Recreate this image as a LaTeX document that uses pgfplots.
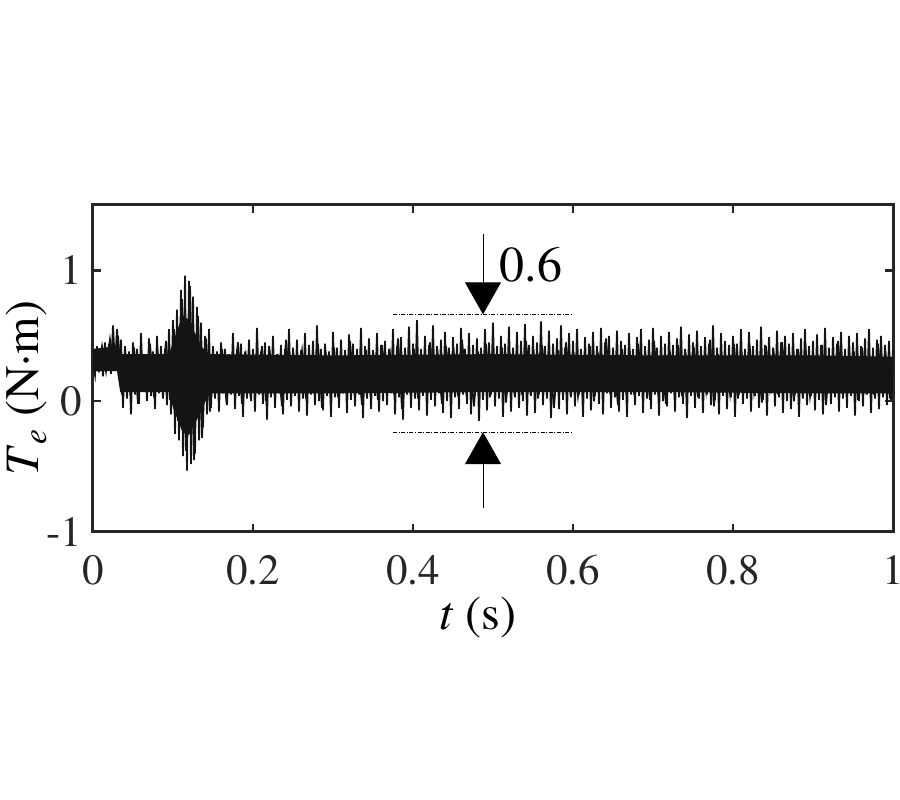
\documentclass[border=0pt]{standalone}
\usepackage{fontspec}
\IfFontExistsTF{texgyretermes-regular.otf}{\setmainfont{texgyretermes}[Extension=.otf,UprightFont=*-regular,ItalicFont=*-italic,BoldFont=*-bold,BoldItalicFont=*-bolditalic]}{\setmainfont{DejaVu Serif}}
\usepackage{pgfplots}
\usepackage{pgfplotstable}
\pgfplotsset{compat=1.18}
\usetikzlibrary{arrows.meta}
\definecolor{axgray}{RGB}{38,38,38}
\pgfplotstableread[row sep=\\]{
x y\\
0 0.30\\ 0.0025 0.20\\ 0.005 0.42\\ 0.0075 0.22\\ 0.01 0.40\\ 0.0125 0.19\\ 0.015 0.45\\ 0.0175 0.24\\ 0.02 0.44\\ 0.0225 0.21\\
0.025 0.58\\ 0.0275 0.26\\ 0.03 0.55\\ 0.0325 0.28\\ 0.035 0.47\\ 0.0375 -0.05\\ 0.04 0.42\\ 0.0425 0.02\\ 0.045 0.38\\ 0.0475 -0.10\\
0.05 0.45\\ 0.0525 0.05\\ 0.055 0.40\\ 0.0575 -0.02\\ 0.06 0.52\\ 0.0625 0.08\\ 0.065 0.36\\ 0.0675 0.00\\ 0.07 0.48\\ 0.0725 0.04\\
0.075 0.38\\ 0.0775 -0.06\\ 0.08 0.50\\ 0.0825 0.06\\ 0.085 0.42\\ 0.0875 0.02\\ 0.09 0.40\\ 0.0925 -0.03\\ 0.095 0.55\\ 0.0975 -0.10\\
0.1 0.62\\ 0.1025 -0.25\\ 0.105 0.70\\ 0.1075 -0.30\\ 0.11 0.85\\ 0.1125 -0.42\\ 0.115 0.96\\ 0.1175 -0.53\\ 0.12 0.92\\ 0.1225 -0.48\\
0.125 0.80\\ 0.1275 -0.40\\ 0.13 0.72\\ 0.1325 -0.30\\ 0.135 0.60\\ 0.1375 -0.20\\ 0.14 0.50\\ 0.1425 -0.10\\ 0.145 0.55\\ 0.1475 -0.05\\
0.15 0.42\\ 0.1525 0.02\\ 0.155 0.38\\ 0.1575 -0.08\\ 0.16 0.45\\ 0.1625 0.06\\ 0.165 0.40\\ 0.1675 -0.03\\ 0.17 0.36\\ 0.1725 0.05\\
0.175 0.52\\ 0.1775 -0.06\\ 0.18 0.40\\ 0.1825 0.04\\ 0.185 0.44\\ 0.1875 -0.12\\ 0.19 0.38\\ 0.1925 0.02\\ 0.195 0.47\\ 0.1975 0.00\\
0.2 0.40\\ 0.2025 -0.08\\ 0.205 0.56\\ 0.2075 0.05\\ 0.21 0.38\\ 0.2125 -0.02\\ 0.215 0.45\\ 0.2175 -0.14\\ 0.22 0.42\\ 0.2225 0.03\\
0.225 0.50\\ 0.2275 -0.05\\ 0.23 0.36\\ 0.2325 0.06\\ 0.235 0.43\\ 0.2375 -0.10\\ 0.24 0.40\\ 0.2425 0.01\\ 0.245 0.55\\ 0.2475 -0.04\\
0.25 0.41\\ 0.2525 0.04\\ 0.255 0.47\\ 0.2575 -0.08\\ 0.26 0.39\\ 0.2625 0.02\\ 0.265 0.52\\ 0.2675 -0.11\\ 0.27 0.43\\ 0.2725 0.05\\
0.275 0.46\\ 0.2775 -0.03\\ 0.28 0.58\\ 0.2825 0.00\\ 0.285 0.40\\ 0.2875 -0.07\\ 0.29 0.44\\ 0.2925 0.04\\ 0.295 0.38\\ 0.2975 -0.12\\
0.3 0.53\\ 0.3025 0.03\\ 0.305 0.41\\ 0.3075 -0.05\\ 0.31 0.47\\ 0.3125 0.06\\ 0.315 0.39\\ 0.3175 -0.09\\ 0.32 0.51\\ 0.3225 0.01\\
0.325 0.44\\ 0.3275 -0.04\\ 0.33 0.40\\ 0.3325 0.05\\ 0.335 0.56\\ 0.3375 -0.13\\ 0.34 0.42\\ 0.3425 0.02\\ 0.345 0.48\\ 0.3475 -0.06\\
0.35 0.39\\ 0.3525 0.04\\ 0.355 0.52\\ 0.3575 -0.08\\ 0.36 0.43\\ 0.3625 0.00\\ 0.365 0.46\\ 0.3675 -0.03\\ 0.37 0.40\\ 0.3725 0.06\\
0.375 0.55\\ 0.3775 -0.10\\ 0.38 0.42\\ 0.3825 0.03\\ 0.385 0.49\\ 0.3875 -0.14\\ 0.39 0.41\\ 0.3925 0.05\\ 0.395 0.57\\ 0.3975 -0.05\\
0.4 0.44\\ 0.4025 0.02\\ 0.405 0.62\\ 0.4075 -0.07\\ 0.41 0.40\\ 0.4125 0.04\\ 0.415 0.50\\ 0.4175 -0.11\\ 0.42 0.43\\ 0.4225 0.01\\
0.425 0.58\\ 0.4275 -0.04\\ 0.43 0.42\\ 0.4325 0.06\\ 0.435 0.47\\ 0.4375 -0.09\\ 0.44 0.53\\ 0.4425 0.00\\ 0.445 0.41\\ 0.4475 -0.13\\
0.45 0.49\\ 0.4525 0.03\\ 0.455 0.44\\ 0.4575 -0.06\\ 0.46 0.56\\ 0.4625 0.05\\ 0.465 0.40\\ 0.4675 -0.02\\ 0.47 0.52\\ 0.4725 -0.10\\
0.475 0.43\\ 0.4775 0.04\\ 0.48 0.48\\ 0.4825 -0.15\\ 0.485 0.41\\ 0.4875 0.01\\ 0.49 0.55\\ 0.4925 -0.07\\ 0.495 0.45\\ 0.4975 0.05\\
0.5 0.60\\ 0.5025 -0.04\\ 0.505 0.42\\ 0.5075 0.02\\ 0.51 0.50\\ 0.5125 -0.12\\ 0.515 0.44\\ 0.5175 0.06\\ 0.52 0.57\\ 0.5225 -0.08\\
0.525 0.41\\ 0.5275 0.03\\ 0.53 0.53\\ 0.5325 -0.05\\ 0.535 0.46\\ 0.5375 0.00\\ 0.54 0.59\\ 0.5425 -0.11\\ 0.545 0.43\\ 0.5475 0.04\\
0.55 0.50\\ 0.5525 -0.09\\ 0.555 0.45\\ 0.5575 0.05\\ 0.56 0.61\\ 0.5625 -0.03\\ 0.565 0.42\\ 0.5675 0.02\\ 0.57 0.54\\ 0.5725 -0.13\\
0.575 0.44\\ 0.5775 0.06\\ 0.58 0.48\\ 0.5825 -0.06\\ 0.585 0.58\\ 0.5875 0.01\\ 0.59 0.41\\ 0.5925 -0.10\\ 0.595 0.52\\ 0.5975 0.03\\
0.6 0.46\\ 0.6025 -0.04\\ 0.605 0.55\\ 0.6075 0.05\\ 0.61 0.40\\ 0.6125 -0.12\\ 0.615 0.49\\ 0.6175 0.02\\ 0.62 0.44\\ 0.6225 -0.07\\
0.625 0.53\\ 0.6275 0.04\\ 0.63 0.42\\ 0.6325 -0.02\\ 0.635 0.56\\ 0.6375 -0.10\\ 0.64 0.45\\ 0.6425 0.06\\ 0.645 0.50\\ 0.6475 -0.05\\
0.65 0.41\\ 0.6525 0.03\\ 0.655 0.54\\ 0.6575 -0.08\\ 0.66 0.46\\ 0.6625 0.01\\ 0.665 0.43\\ 0.6675 -0.12\\ 0.67 0.52\\ 0.6725 0.05\\
0.675 0.40\\ 0.6775 -0.03\\ 0.68 0.49\\ 0.6825 0.04\\ 0.685 0.55\\ 0.6875 -0.09\\ 0.69 0.42\\ 0.6925 0.02\\ 0.695 0.47\\ 0.6975 -0.06\\
0.7 0.56\\ 0.7025 0.05\\ 0.705 0.41\\ 0.7075 -0.11\\ 0.71 0.50\\ 0.7125 0.00\\ 0.715 0.44\\ 0.7175 -0.04\\ 0.72 0.53\\ 0.7225 0.06\\
0.725 0.43\\ 0.7275 -0.08\\ 0.73 0.48\\ 0.7325 0.03\\ 0.735 0.57\\ 0.7375 -0.02\\ 0.74 0.40\\ 0.7425 -0.13\\ 0.745 0.51\\ 0.7475 0.04\\
0.75 0.45\\ 0.7525 -0.05\\ 0.755 0.54\\ 0.7575 0.02\\ 0.76 0.42\\ 0.7625 -0.09\\ 0.765 0.49\\ 0.7675 0.05\\ 0.77 0.44\\ 0.7725 -0.03\\
0.775 0.58\\ 0.7775 0.01\\ 0.78 0.41\\ 0.7825 -0.10\\ 0.785 0.52\\ 0.7875 0.04\\ 0.79 0.46\\ 0.7925 -0.06\\ 0.795 0.43\\ 0.7975 0.03\\
0.8 0.50\\ 0.8025 -0.12\\ 0.805 0.44\\ 0.8075 0.05\\ 0.81 0.55\\ 0.8125 -0.02\\ 0.815 0.40\\ 0.8175 0.02\\ 0.82 0.53\\ 0.8225 -0.08\\
0.825 0.42\\ 0.8275 0.04\\ 0.83 0.47\\ 0.8325 -0.05\\ 0.835 0.57\\ 0.8375 0.01\\ 0.84 0.43\\ 0.8425 -0.11\\ 0.845 0.49\\ 0.8475 0.06\\
0.85 0.41\\ 0.8525 -0.04\\ 0.855 0.54\\ 0.8575 0.03\\ 0.86 0.45\\ 0.8625 -0.09\\ 0.865 0.50\\ 0.8675 0.00\\ 0.87 0.44\\ 0.8725 -0.06\\
0.875 0.52\\ 0.8775 0.05\\ 0.88 0.40\\ 0.8825 -0.12\\ 0.885 0.48\\ 0.8875 0.02\\ 0.89 0.55\\ 0.8925 -0.03\\ 0.895 0.42\\ 0.8975 0.04\\
0.9 0.46\\ 0.9025 -0.07\\ 0.905 0.51\\ 0.9075 0.01\\ 0.91 0.43\\ 0.9125 -0.10\\ 0.915 0.56\\ 0.9175 0.05\\ 0.92 0.41\\ 0.9225 -0.02\\
0.925 0.49\\ 0.9275 0.03\\ 0.93 0.44\\ 0.9325 -0.08\\ 0.935 0.53\\ 0.9375 0.02\\ 0.94 0.40\\ 0.9425 -0.05\\ 0.945 0.50\\ 0.9475 0.04\\
0.95 0.45\\ 0.9525 -0.11\\ 0.955 0.52\\ 0.9575 0.00\\ 0.96 0.42\\ 0.9625 -0.04\\ 0.965 0.48\\ 0.9675 0.05\\ 0.97 0.55\\ 0.9725 -0.09\\
0.975 0.41\\ 0.9775 0.02\\ 0.98 0.47\\ 0.9825 -0.06\\ 0.985 0.50\\ 0.9875 0.03\\ 0.99 0.43\\ 0.9925 -0.03\\ 0.995 0.46\\ 0.9975 0.01\\
1 0.40\\
}\sig
\pgfplotstableread[row sep=\\]{
x y\\
0.00125 0.38\\ 0.00625 0.25\\ 0.01125 0.42\\ 0.01625 0.23\\ 0.02125 0.47\\ 0.02625 0.27\\ 0.03125 0.50\\ 0.03625 0.05\\
0.04125 0.33\\ 0.04625 0.10\\ 0.05125 0.41\\ 0.05625 -0.02\\ 0.06125 0.30\\ 0.06625 0.12\\ 0.07125 0.44\\ 0.07625 0.03\\ 0.08125 0.35\\ 0.08625 0.09\\ 0.09125 0.46\\ 0.09625 0.01\\
0.10125 0.55\\ 0.10625 -0.15\\ 0.11125 0.78\\ 0.11625 -0.38\\ 0.12125 0.88\\ 0.12625 -0.45\\ 0.13125 0.65\\ 0.13625 -0.28\\ 0.14125 0.48\\ 0.14625 -0.08\\
0.15125 0.32\\ 0.15625 0.11\\ 0.16125 0.40\\ 0.16625 0.04\\ 0.17125 0.28\\ 0.17625 0.14\\ 0.18125 0.45\\ 0.18625 -0.02\\ 0.19125 0.34\\ 0.19625 0.08\\
0.20125 0.29\\ 0.20625 0.12\\ 0.21125 0.42\\ 0.21625 0.00\\ 0.22125 0.36\\ 0.22625 0.10\\ 0.23125 0.31\\ 0.23625 -0.04\\ 0.24125 0.47\\ 0.24625 0.07\\
0.25125 0.33\\ 0.25625 0.13\\ 0.26125 0.38\\ 0.26625 0.02\\ 0.27125 0.30\\ 0.27625 0.09\\ 0.28125 0.44\\ 0.28625 -0.05\\ 0.29125 0.35\\ 0.29625 0.11\\
0.30125 0.41\\ 0.30625 0.03\\ 0.31125 0.29\\ 0.31625 0.12\\ 0.32125 0.46\\ 0.32625 0.06\\ 0.33125 0.34\\ 0.33625 -0.03\\ 0.34125 0.39\\ 0.34625 0.10\\
0.35125 0.31\\ 0.35625 0.01\\ 0.36125 0.43\\ 0.36625 0.13\\ 0.37125 0.36\\ 0.37625 0.05\\ 0.38125 0.48\\ 0.38625 -0.06\\ 0.39125 0.32\\ 0.39625 0.09\\
0.40125 0.40\\ 0.40625 0.02\\ 0.41125 0.30\\ 0.41625 0.11\\ 0.42125 0.45\\ 0.42625 0.07\\ 0.43125 0.33\\ 0.43625 -0.02\\ 0.44125 0.42\\ 0.44625 0.12\\
0.45125 0.35\\ 0.45625 0.04\\ 0.46125 0.47\\ 0.46625 0.10\\ 0.47125 0.29\\ 0.47625 -0.04\\ 0.48125 0.38\\ 0.48625 0.08\\ 0.49125 0.44\\ 0.49625 0.03\\
0.50125 0.32\\ 0.50625 0.12\\ 0.51125 0.41\\ 0.51625 -0.01\\ 0.52125 0.36\\ 0.52625 0.09\\ 0.53125 0.30\\ 0.53625 0.05\\ 0.54125 0.46\\ 0.54625 0.11\\
0.55125 0.34\\ 0.55625 0.02\\ 0.56125 0.43\\ 0.56625 0.13\\ 0.57125 0.31\\ 0.57625 -0.05\\ 0.58125 0.39\\ 0.58625 0.07\\ 0.59125 0.45\\ 0.59625 0.10\\
0.60125 0.33\\ 0.60625 0.04\\ 0.61125 0.28\\ 0.61625 0.12\\ 0.62125 0.42\\ 0.62625 0.00\\ 0.63125 0.37\\ 0.63625 0.08\\ 0.64125 0.48\\ 0.64625 0.06\\
0.65125 0.30\\ 0.65625 -0.03\\ 0.66125 0.40\\ 0.66625 0.11\\ 0.67125 0.35\\ 0.67625 0.05\\ 0.68125 0.44\\ 0.68625 0.13\\ 0.69125 0.32\\ 0.69625 0.01\\
0.70125 0.46\\ 0.70625 0.09\\ 0.71125 0.29\\ 0.71625 -0.02\\ 0.72125 0.38\\ 0.72625 0.10\\ 0.73125 0.43\\ 0.73625 0.04\\ 0.74125 0.34\\ 0.74625 0.12\\
0.75125 0.41\\ 0.75625 0.03\\ 0.76125 0.31\\ 0.76625 0.08\\ 0.77125 0.47\\ 0.77625 -0.04\\ 0.78125 0.36\\ 0.78625 0.11\\ 0.79125 0.30\\ 0.79625 0.06\\
0.80125 0.44\\ 0.80625 0.02\\ 0.81125 0.33\\ 0.81625 0.12\\ 0.82125 0.39\\ 0.82625 0.07\\ 0.83125 0.28\\ 0.83625 -0.01\\ 0.84125 0.42\\ 0.84625 0.10\\
0.85125 0.35\\ 0.85625 0.05\\ 0.86125 0.45\\ 0.86625 0.13\\ 0.87125 0.32\\ 0.87625 0.00\\ 0.88125 0.40\\ 0.88625 0.09\\ 0.89125 0.37\\ 0.89625 0.04\\
0.90125 0.29\\ 0.90625 0.11\\ 0.91125 0.43\\ 0.91625 -0.03\\ 0.92125 0.34\\ 0.92625 0.08\\ 0.93125 0.46\\ 0.93625 0.06\\ 0.94125 0.31\\ 0.94625 0.12\\
0.95125 0.38\\ 0.95625 0.01\\ 0.96125 0.41\\ 0.96625 0.10\\ 0.97125 0.30\\ 0.97625 0.05\\ 0.98125 0.44\\ 0.98625 0.07\\ 0.99125 0.33\\ 0.99625 0.02\\
}\sigb
\pgfplotstableread[row sep=\\]{
x y\\
0 0.40\\ 0.03 0.42\\ 0.034 0.36\\ 0.095 0.36\\ 0.1 0.45\\ 0.112 0.66\\ 0.12 0.62\\ 0.135 0.42\\ 0.145 0.36\\ 0.3 0.35\\ 0.5 0.36\\ 0.7 0.35\\ 0.9 0.35\\ 1 0.34\\
1 0.06\\ 0.9 0.06\\ 0.7 0.07\\ 0.5 0.07\\ 0.3 0.06\\ 0.145 0.06\\ 0.135 -0.08\\ 0.12 -0.26\\ 0.112 -0.24\\ 0.1 -0.05\\ 0.095 0.07\\ 0.034 0.07\\ 0.03 0.23\\ 0 0.23\\
}\core
\begin{document}
\begin{tikzpicture}
\begin{axis}[
  scale only axis,
  width=400pt, height=163.5pt,
  xmin=0, xmax=1, ymin=-1, ymax=1.5,
  xtick={0,0.2,0.4,0.6,0.8,1},
  ytick={-1,0,1},
  xticklabels={0,0.2,0.4,0.6,0.8,1},
  yticklabels={-1,0,1},
  axis line style={axgray, line width=1.5pt},
  tick style={axgray, line width=1.2pt},
  major tick length=4pt,
  tick align=inside,
  ticklabel style={font=\fontsize{21.5}{24}\selectfont, text=axgray},
  xticklabel style={yshift=-8pt},
  yticklabel style={xshift=-2pt},
  xlabel={\textit{t} (s)},
  ylabel={\textit{T}\textsubscript{\textit{e}} (N·m)},
  label style={font=\fontsize{24}{28}\selectfont, text=black},
  xlabel style={at={(axis description cs:0.481,-0.263)}, anchor=center},
  ylabel style={at={(axis description cs:-0.0825,0.44)}, anchor=center, rotate=0},
  clip=true,
]
\addplot[fill=black!92, draw=none] table {\core} -- cycle;
\addplot[black!92, line width=0.9pt, mark=none] table {\sig};
\addplot[black!92, line width=0.9pt, mark=none] table {\sigb};
\draw[black, line width=0.4pt, dash pattern=on 2pt off 0.8pt on 0.5pt off 0.8pt] (axis cs:0.375,0.664) -- (axis cs:0.6,0.664);
\draw[black, line width=0.4pt, dash pattern=on 2pt off 0.8pt on 0.5pt off 0.8pt] (axis cs:0.375,-0.237) -- (axis cs:0.6,-0.237);
\draw[black, line width=0.5pt, -{Triangle[width=18pt,length=16pt]}] (axis cs:0.4875,1.28) -- (axis cs:0.4875,0.664);
\draw[black, line width=0.5pt, -{Triangle[width=18pt,length=16pt]}] (axis cs:0.4875,-0.817) -- (axis cs:0.4875,-0.237);
\node[anchor=west, font=\fontsize{25}{28}\selectfont, inner sep=0pt] at (axis cs:0.508,1.04) {0.6};
\end{axis}
\pgfresetboundingbox
\path ([shift={(-46.5pt,-134pt)}]current axis.south west) rectangle ([shift={(3.5pt,102.5pt)}]current axis.north east);
\end{tikzpicture}
\end{document}
